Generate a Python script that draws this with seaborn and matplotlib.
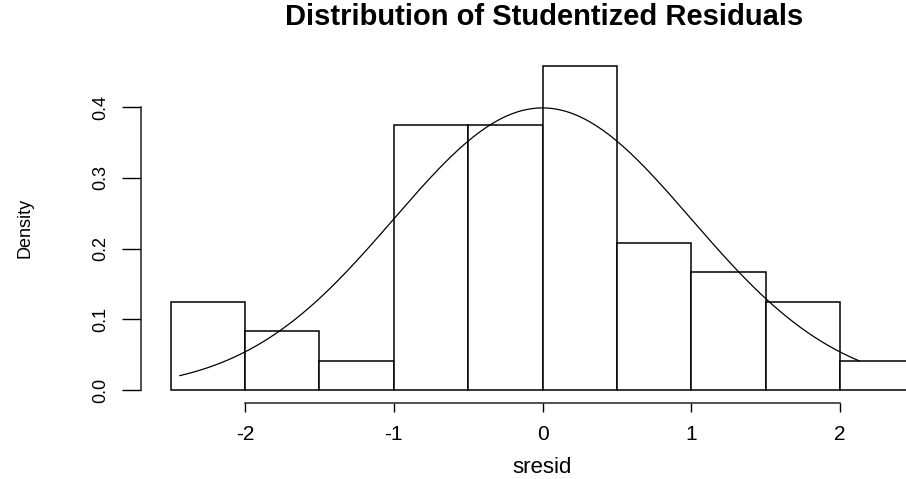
import numpy as np
import seaborn as sns
import matplotlib
matplotlib.use('Agg')
import matplotlib.pyplot as plt

# histogram of studentized residuals (R hist, freq=FALSE)
bin_edges = [-2.5, -2.0, -1.5, -1.0, -0.5, 0.0, 0.5, 1.0, 1.5, 2.0, 2.5]
bin_counts = [3, 2, 1, 9, 9, 11, 5, 4, 3, 1]
bin_centers = [-2.25, -1.75, -1.25, -0.75, -0.25, 0.25, 0.75, 1.25, 1.75, 2.25]

# normal curve drawn over the range of the residuals
curve_from, curve_to = -2.44, 2.13
curve_mean, curve_sd = 0.0, 1.0

x_ticks = [-2, -1, 0, 1, 2]
y_ticks = [0.0, 0.1, 0.2, 0.3, 0.4]

sns.set_style('white')
plt.rcParams['font.family'] = ['Liberation Sans', 'DejaVu Sans']
plt.rcParams['text.color'] = 'black'
plt.rcParams['xtick.color'] = 'black'
plt.rcParams['ytick.color'] = 'black'

W, H = 906, 479
fig = plt.figure(figsize=(W / 100, H / 100), dpi=100)
ax = fig.add_axes([141 / W, (H - 403) / H, 803 / W, 350 / H])

sns.histplot(x=bin_centers, weights=bin_counts, bins=bin_edges, stat='density',
             color='white', alpha=1, edgecolor='black', linewidth=1.1, ax=ax)

xs = np.linspace(curve_from, curve_to, 200)
ys = np.exp(-0.5 * ((xs - curve_mean) / curve_sd) ** 2) / (curve_sd * np.sqrt(2 * np.pi))
sns.lineplot(x=xs, y=ys, color='black', linewidth=0.9, ax=ax)

ax.set_xlim(-2.7, 2.7)
ax.set_ylim(-0.0183, 0.4766)
ax.set_xlabel('')
ax.set_ylabel('')

for s in ['top', 'right']:
    ax.spines[s].set_visible(False)
ax.spines['left'].set_bounds(0, 0.4)
ax.spines['bottom'].set_bounds(-2, 2)
for s in ['left', 'bottom']:
    ax.spines[s].set_color('#222222')
    ax.spines[s].set_linewidth(1.1)

ax.set_xticks(x_ticks)
ax.set_xticklabels([str(t) for t in x_ticks])
ax.set_yticks(y_ticks)
ax.set_yticklabels(['%.1f' % t for t in y_ticks], rotation=90, va='center')
ax.tick_params(axis='x', direction='out', length=6.5, width=1, pad=9,
               labelsize=15, bottom=True)
ax.tick_params(axis='y', direction='out', length=13.5, width=1, pad=9,
               labelsize=13, left=True)

fig.text(544 / W, 1 - 25 / H, 'Distribution of Studentized Residuals',
         ha='center', va='baseline', fontsize=21, fontweight='bold')
fig.text(542 / W, 1 - 473 / H, 'sresid', ha='center', va='baseline', fontsize=16)
fig.text(25 / W, 1 - 228 / H, 'Density', ha='center', va='center',
         rotation=90, fontsize=13)

fig.savefig('out.png', dpi=100, facecolor='white')
